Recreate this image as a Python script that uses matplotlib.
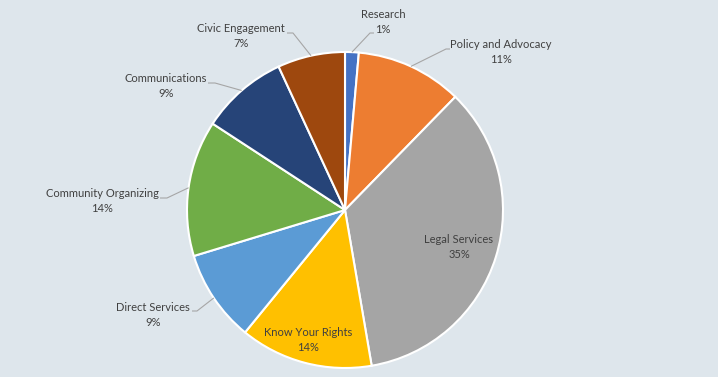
import numpy as np
import matplotlib
matplotlib.use("Agg")
import matplotlib.pyplot as plt

# Data (share of budget)
categories = ['Research', 'Policy and Advocacy', 'Legal Services', 'Know Your Rights',
              'Direct Services', 'Community Organizing', 'Communications', 'Civic Engagement']
shares = [1.4, 10.9, 35.0, 13.6, 9.4, 13.9, 8.9, 6.9]
colors = ['#4472C4', '#ED7D31', '#A5A5A5', '#FFC000',
          '#5B9BD5', '#70AD47', '#264478', '#9E480E']

# Layout in pixels (y measured from top)
W, H = 718, 377
CENTER = (345, 210)
RADIUS = 158
# label block centres
label_pos = [(383, 22), (501, 52), (459, 247), (308, 340),
             (153, 315), (102, 201), (166, 86), (241, 36)]
# leader line elbows (None = label inside the slice)
elbows = [((370, 33), (374, 33)), ((446, 49), (450, 49)), None, None,
          ((197, 311), (192, 311)), ((167, 198), (160, 198)),
          ((215, 83), (208, 83)), ((293, 33), (287, 33))]

BG = '#DEE6EC'
TEXT = '#404040'

plt.rcParams['font.family'] = ['Lato', 'DejaVu Sans']

fig = plt.figure(figsize=(W / 100, H / 100), dpi=100, facecolor=BG)
ax = fig.add_axes([0, 0, 1, 1])
ax.set_facecolor(BG)

wedges, _ = ax.pie(shares, colors=colors, startangle=90, counterclock=False,
                   center=(CENTER[0], H - CENTER[1]), radius=RADIUS,
                   wedgeprops=dict(edgecolor='white', linewidth=1.5))

total = sum(shares)
for i, w in enumerate(wedges):
    pct = shares[i] / total * 100
    lx, ly = label_pos[i]
    ax.text(lx, H - ly, f"{categories[i]}\n{pct:.0f}%", ha='center', va='center',
            fontsize=8, color=TEXT, linespacing=1.35)
    if elbows[i] is not None:
        mid = np.deg2rad((w.theta1 + w.theta2) / 2)
        sx = CENTER[0] + RADIUS * np.cos(mid)
        sy = H - CENTER[1] + RADIUS * np.sin(mid)
        (ex, ey), (fx, fy) = elbows[i]
        ax.plot([sx, ex, fx], [sy, H - ey, H - fy], color='#A6A6A6', lw=0.8,
                solid_capstyle='butt')

ax.set_xlim(0, W)
ax.set_ylim(0, H)
ax.set_aspect('equal')
ax.axis('off')

fig.savefig('out.png', dpi=100, facecolor=BG)
